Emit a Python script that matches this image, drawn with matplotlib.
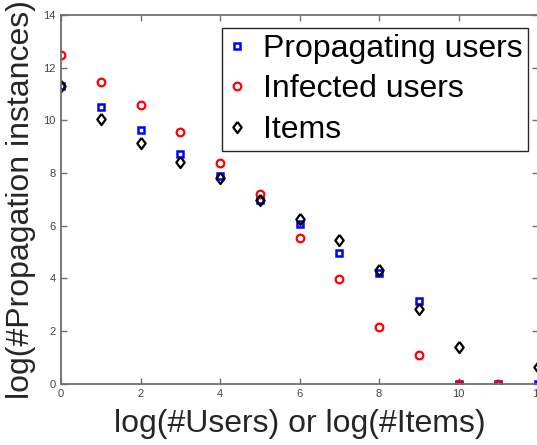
import numpy as np
import matplotlib
matplotlib.use('Agg')
import matplotlib.pyplot as plt

plt.rcParams['font.family'] = ['Liberation Sans', 'DejaVu Sans']

# x = log(#Users) or log(#Items)
x_users = [0, 1, 2, 3, 4, 5, 6, 7, 8, 9, 10, 11, 12]
propagating = [11.29, 10.49, 9.62, 8.72, 7.90, 6.98, 6.05, 4.95, 4.21, 3.13, 0, 0, 0]

x_infected = [0, 1, 2, 3, 4, 5, 6, 7, 8, 9, 10, 11]
infected = [12.47, 11.44, 10.60, 9.54, 8.38, 7.21, 5.53, 3.99, 2.17, 1.08, 0, 0]

x_items = [0, 1, 2, 3, 4, 5, 6, 7, 8, 9, 10, 12]
items = [11.29, 10.04, 9.15, 8.41, 7.82, 6.96, 6.24, 5.44, 4.32, 2.84, 1.38, 0.65]

W, H = 537, 445
fig = plt.figure(figsize=(W / 100, H / 100), dpi=100)
ax = fig.add_axes([61 / W, (H - 383.7) / H, 477 / W, 368.7 / H])

# MATLAB-like diamond (a bit wider than mpl's thin diamond)
diamond = [(0, 1), (0.75, 0), (0, -1), (-0.75, 0), (0, 1)]

ax.plot(x_users, propagating, 's', ms=4, mfc='none', mec='#0000ff', mew=1.8,
        label='Propagating users')
ax.plot(x_infected, infected, 'o', ms=5.5, mfc='none', mec='#ff0000', mew=1.6,
        label='Infected users')
ax.plot(x_items, items, ls='none', marker=diamond, ms=8, mfc='none', mec='black',
        mew=1.6, label='Items')

ax.set_xlim(0, 12)
ax.set_ylim(0, 14)
ax.set_xticks(np.arange(0, 13, 2))
ax.set_yticks(np.arange(0, 15, 2))

gray = '#444444'
for s in ax.spines.values():
    s.set_color('#6e6e6e')
    s.set_linewidth(1.3)
ax.tick_params(direction='in', length=4, width=1, colors='#6e6e6e',
               labelcolor=gray, labelsize=8, top=True, right=True, pad=4)

ax.set_xlabel('log(#Users) or log(#Items)', fontsize=23, color='#262626', labelpad=7)
ax.set_ylabel('log(#Propagation instances)', fontsize=23, color='#262626', labelpad=5)

leg = ax.legend(loc='upper left', bbox_to_anchor=(222 / W, 1 - 28 / H),
                bbox_transform=fig.transFigure, fontsize=23, frameon=True,
                fancybox=False, framealpha=1, edgecolor='#262626',
                handlelength=0.6, handletextpad=0.5, labelspacing=0.33,
                borderpad=0.18, borderaxespad=0)
leg.get_frame().set_linewidth(1.0)

fig.savefig('out.png', dpi=100)
